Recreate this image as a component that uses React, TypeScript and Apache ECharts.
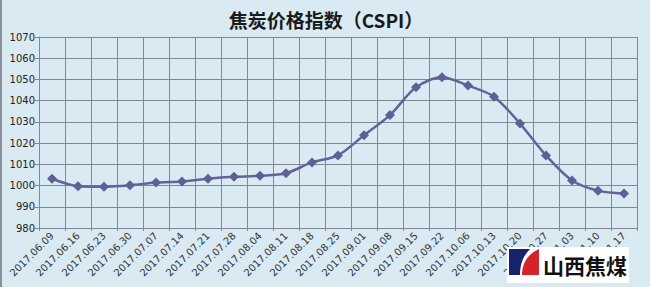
import React, { useEffect, useRef } from "react";
import * as echarts from "echarts";

const categories = [
  "2017.06.09", "2017.06.16", "2017.06.23", "2017.06.30", "2017.07.07", "2017.07.14",
  "2017.07.21", "2017.07.28", "2017.08.04", "2017.08.11", "2017.08.18", "2017.08.25",
  "2017.09.01", "2017.09.08", "2017.09.15", "2017.09.22", "2017.10.06", "2017.10.13",
  "2017.10.20", "2017.10.27", "2017.11.03", "2017.11.10", "2017.11.17",
];
const cspiValues = [
  1003.2, 999.7, 999.4, 1000.1, 1001.4, 1001.9, 1003.2, 1004.1, 1004.6, 1005.8,
  1010.9, 1014.2, 1023.7, 1033.2, 1046.3, 1051.0, 1047.1, 1041.9, 1029.2, 1014.2,
  1002.4, 997.6, 996.2,
];
const yMin = 980;
const yMax = 1070;
const yStep = 10;
const titleText = "焦炭价格指数（CSPI）";
const logoText = "山西焦煤";

let shapesRegistered = false;
function registerLogo() {
  if (shapesRegistered) return;
  shapesRegistered = true;
  echarts.graphic.registerShape(
    "logoBlue",
    echarts.graphic.extendPath("M0 0 L21 0 C14 7 11 15 11 26 L0 26 Z", {}) as any
  );
  echarts.graphic.registerShape(
    "logoRed",
    echarts.graphic.extendPath("M30 0 L30 26 L13 26 C13 14 19 5 30 0 Z", {}) as any
  );
}

export default function App() {
  const ref = useRef<HTMLDivElement>(null);
  useEffect(() => {
    document.body.style.margin = "0";
    registerLogo();
    const chart = echarts.init(ref.current!, null, { renderer: "svg" });
    const gridColor = "#7f8893";
    chart.setOption({
      animation: false,
      backgroundColor: "#d9eaf3",
      title: {
        text: titleText,
        left: 321,
        textAlign: "center",
        top: 5,
        textStyle: {
          fontFamily: "Noto Sans CJK SC",
          fontSize: 19,
          fontWeight: "bold",
          color: "#1a1a1a",
        },
      },
      grid: { left: 39, right: 13, top: 37, bottom: 59, containLabel: false },
      xAxis: {
        type: "category",
        data: categories,
        boundaryGap: true,
        axisLine: { show: true, lineStyle: { color: gridColor, width: 1 } },
        axisTick: { show: true, length: 3, lineStyle: { color: gridColor } },
        splitLine: { show: true, lineStyle: { color: gridColor, width: 1 } },
        axisLabel: {
          interval: 0,
          rotate: 45,
          fontSize: 10,
          fontFamily: "DejaVu Sans",
          color: "#333",
          margin: 6,
        },
      },
      yAxis: {
        type: "value",
        min: yMin,
        max: yMax,
        interval: yStep,
        axisLine: { show: true, lineStyle: { color: gridColor, width: 1 } },
        axisTick: { show: true, length: 4, lineStyle: { color: gridColor } },
        splitLine: { show: true, lineStyle: { color: gridColor, width: 1 } },
        axisLabel: {
          fontSize: 10,
          fontFamily: "DejaVu Sans",
          color: "#222",
          margin: 4,
          formatter: (v: number) => String(v),
        },
      },
      series: [
        {
          type: "line",
          data: cspiValues,
          symbol: "diamond",
          symbolSize: 10,
          smooth: 0.3,
          lineStyle: { color: "#62639a", width: 2.5 },
          itemStyle: { color: "#5e5f94" },
        },
      ],
      graphic: [
        {
          type: "rect",
          left: 0,
          top: 0,
          shape: { width: 2, height: 287 },
          style: { fill: "#8a9099" },
          z: 100,
        },
        {
          type: "rect",
          shape: { x: 507, y: 247, width: 122, height: 36 },
          style: { fill: "#ffffff" },
          z: 100,
        },
        {
          type: "logoBlue",
          x: 509,
          y: 249,
          style: { fill: "#17236a" },
          z: 101,
        },
        {
          type: "logoRed",
          x: 509,
          y: 249,
          style: { fill: "#d4232a" },
          z: 101,
        },
        {
          type: "text",
          x: 543,
          y: 265,
          style: {
            text: logoText,
            fontFamily: "Noto Sans CJK SC",
            fontSize: 21,
            fontWeight: "bold",
            fill: "#111",
            verticalAlign: "middle",
          },
          z: 101,
        },
      ],
    });
    return () => chart.dispose();
  }, []);
  return <div ref={ref} style={{ width: 650, height: 287 }} />;
}
